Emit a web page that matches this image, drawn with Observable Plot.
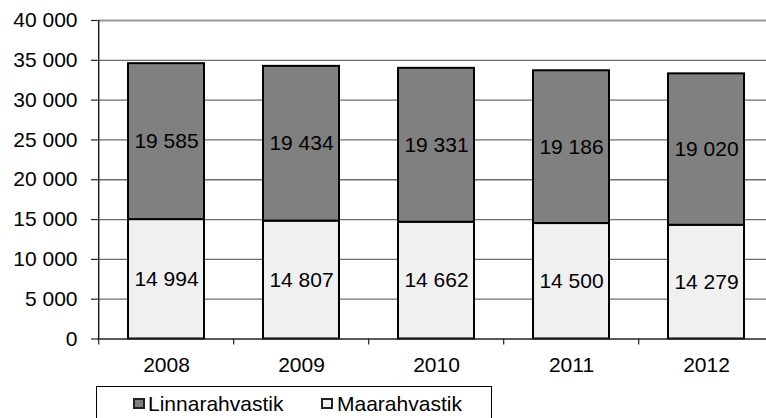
<!DOCTYPE html>
<html><head><meta charset="utf-8">
<script src="https://cdn.jsdelivr.net/npm/d3@7"></script>
<script src="https://cdn.jsdelivr.net/npm/@observablehq/plot@0.6"></script>
<style>
html,body{margin:0;padding:0;background:#fff;overflow:hidden;width:766px;height:418px;}
#wrap{position:relative;width:766px;height:418px;font-family:"Liberation Sans",Arial,sans-serif;}
#chart{position:absolute;left:0;top:0;}
#legend{position:absolute;left:96px;top:386px;width:396px;height:60px;border:1px solid #000;box-sizing:border-box;font-size:21px;color:#000;}
.sw{position:absolute;top:11px;width:12px;height:11px;border:2px solid #222;box-sizing:border-box;}
.lb{position:absolute;top:6px;line-height:21px;white-space:nowrap;}
</style>
</head><body>
<div id="wrap"><div id="chart"></div>
<div id="legend">
<div class="sw" style="left:36px;background:#808080"></div><div class="lb" style="left:51px">Linnarahvastik</div>
<div class="sw" style="left:224px;background:#f0f0f0"></div><div class="lb" style="left:240px">Maarahvastik</div>
</div></div>
<script>
const years = ["2008", "2009", "2010", "2011", "2012"];
const linnarahvastik = [19585, 19434, 19331, 19186, 19020];
const maarahvastik = [14994, 14807, 14662, 14500, 14279];
const seriesNames = ["Maarahvastik", "Linnarahvastik"];
const seriesColors = ["#f0f0f0", "#808080"];
const yTicks = [0, 5000, 10000, 15000, 20000, 25000, 30000, 35000, 40000];

const table = [];
years.forEach((y, i) => {
  table.push({year: y, series: "Maarahvastik", value: maarahvastik[i]});
  table.push({year: y, series: "Linnarahvastik", value: linnarahvastik[i]});
});
const fmt = d => d3.format(",")(d).replace(/,/g, " ");
const width = 766, marginLeft = 97, marginRight = -9;
const step = (width - marginRight - marginLeft) / years.length;

const chart = Plot.plot({
  width, height: 380,
  marginLeft, marginRight, marginTop: 20, marginBottom: 41.5,
  style: {fontFamily: "Liberation Sans, Arial, sans-serif", fontSize: "21px", color: "#000", background: "#fff", overflow: "hidden"},
  x: {domain: years, paddingInner: 0.434, paddingOuter: 0.217, label: null},
  y: {domain: [0, 40000], label: null},
  color: {domain: seriesNames, range: seriesColors},
  marks: [
    Plot.gridY(yTicks.filter(t => t > 0 && t < 40000), {stroke: "#6e6e6e", strokeOpacity: 1, strokeWidth: 1.3}),
    Plot.ruleY([40000], {stroke: "#9a9a9a", strokeWidth: 2}),
    Plot.barY(table, {x: "year", y: "value", fill: "series", stroke: "#000", strokeWidth: 2, order: seriesNames}),
    Plot.text(table, Plot.stackY({x: "year", y: "value", z: "series", order: seriesNames, text: d => fmt(d.value), fill: "#000"})),
    Plot.ruleY([0], {stroke: "#222", strokeWidth: 1.5}),
    Plot.ruleX([years[0]], {x: d => d, dx: -step / 2, y1: 0, y2: 40000, stroke: "#222", strokeWidth: 1.5}),
    Plot.ruleX(years, {x: d => d, dx: -step / 2, y1: 0, y2: 0, insetBottom: -6, stroke: "#222", strokeWidth: 1.2}),
    Plot.axisY({ticks: yTicks, tickFormat: fmt, tickSize: 6, tickPadding: 14, stroke: "#222", strokeWidth: 1.2, label: null}),
    Plot.axisX({tickSize: 0, tickPadding: 18, label: null})
  ]
});
document.getElementById("chart").appendChild(chart);
</script>
</body></html>
